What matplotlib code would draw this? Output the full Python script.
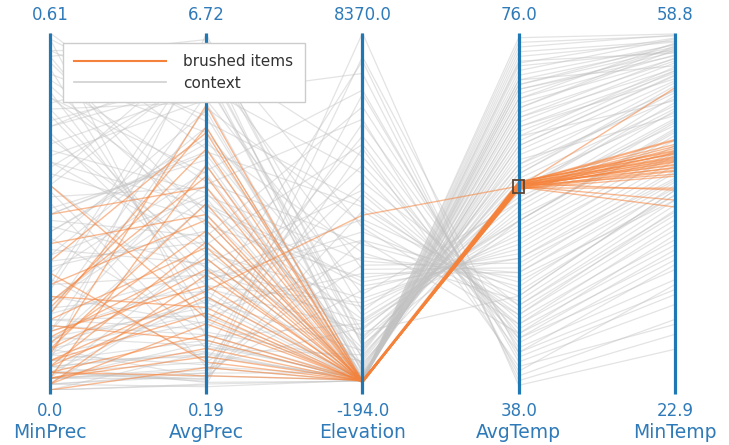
import matplotlib.pyplot as plt
from matplotlib.lines import Line2D
from matplotlib.patches import Rectangle
import matplotlib.transforms as mtransforms

# axis names and their value ranges (bottom, top)
dims = ["MinPrec", "AvgPrec", "Elevation", "AvgTemp", "MinTemp"]
range_lo = [0.0, 0.19, -194.0, 38.0, 22.9]
range_hi = [0.61, 6.72, 8370.0, 76.0, 58.8]
lo_labels = ["0.0", "0.19", "-194.0", "38.0", "22.9"]
hi_labels = ["0.61", "6.72", "8370.0", "76.0", "58.8"]

# context records (all stations)
ctx_min_prec = [0.02, 0.45, 0.10, 0.58, 0.03, 0.30, 0.05, 0.52, 0.01, 0.22,
                0.60, 0.08, 0.35, 0.04, 0.15, 0.48, 0.02, 0.27, 0.55, 0.06,
                0.40, 0.12, 0.01, 0.33, 0.57, 0.09, 0.20, 0.43, 0.03, 0.25,
                0.50, 0.07, 0.38, 0.00, 0.18, 0.61, 0.11, 0.29, 0.46, 0.02,
                0.14, 0.53, 0.05, 0.36, 0.24, 0.01, 0.41, 0.16, 0.58, 0.06,
                0.31, 0.09, 0.49, 0.03, 0.21, 0.44, 0.13, 0.56, 0.04, 0.27,
                0.02, 0.39, 0.17, 0.51, 0.08, 0.34, 0.00, 0.23, 0.47, 0.10,
                0.60, 0.05, 0.19, 0.37, 0.02, 0.42, 0.12, 0.54, 0.07, 0.28,
                0.03, 0.45, 0.15, 0.32, 0.01, 0.50, 0.10, 0.26, 0.04, 0.39,
                0.18, 0.57, 0.06, 0.30, 0.02, 0.48, 0.13, 0.35, 0.00, 0.23]
ctx_avg_prec = [0.60, 5.80, 2.20, 6.40, 0.35, 4.50, 1.10, 3.20, 0.50, 2.90,
                5.10, 1.80, 6.10, 0.90, 3.70, 2.40, 0.40, 4.80, 1.50, 2.60,
                5.50, 1.30, 0.25, 3.90, 6.60, 1.00, 4.20, 2.70, 0.70, 5.30,
                3.50, 1.60, 6.00, 0.30, 2.30, 4.60, 1.20, 3.00, 5.90, 0.55,
                2.00, 4.00, 0.80, 6.50, 2.50, 0.45, 3.80, 1.40, 5.20, 0.65,
                4.40, 1.70, 6.20, 0.38, 3.10, 2.10, 5.60, 3.40, 0.85, 4.70,
                1.05, 2.80, 6.30, 1.90, 3.60, 0.95, 0.28, 5.00, 2.20, 4.30,
                1.15, 6.70, 0.75, 3.30, 2.70, 5.70, 1.55, 4.90, 0.42, 2.45,
                1.85, 6.15, 3.95, 0.62, 2.05, 4.15, 5.35, 1.25, 0.33, 3.55,
                6.55, 2.85, 1.45, 4.55, 0.50, 5.45, 2.35, 1.75, 0.88, 3.75]
ctx_elevation = [10, 1200, 3400, 50, 7800, 600, 20, 2500, 5600, 150,
                 4300, 30, 900, 6200, 5, 1800, 8370, 300, 3000, 15,
                 2100, 4800, 40, 700, 3700, 120, 7000, 450, 2800, 80,
                 1500, 5200, 200, 25, 3900, 1000, 60, 6600, 350, 2200,
                 8, 3300, 100, 1700, 4600, 35, 800, 5900, 250, 1300,
                 45, 2600, 550, 4100, 12, 1900, 7400, 400, 18, 3100,
                 55, 1100, 5400, 70, 2400, 650, 6900, 28, 3600, 180,
                 1400, 850, 4500, 22, 2000, 5000, 90, 1600, 3400, 6,
                 750, 2700, 6300, 140, 1250, 40, 3800, 500, 16, 2300,
                 1050, 5700, 75, 4200, 220, 30, 1450, 7700, 10, 2900]
ctx_avg_temp = [72.5, 48.0, 44.0, 66.0, 42.0, 61.0, 70.0, 52.0, 40.5, 63.5,
                46.0, 68.0, 56.0, 43.5, 74.0, 54.5, 38.5, 65.0, 50.0, 71.0,
                58.0, 47.0, 75.0, 62.5, 45.0, 67.5, 41.0, 59.0, 51.5, 69.0,
                55.5, 44.5, 64.0, 73.0, 48.5, 57.5, 66.5, 42.5, 63.0, 53.0,
                70.5, 49.0, 68.5, 58.5, 45.5, 72.0, 60.5, 43.0, 65.5, 56.5,
                69.5, 50.5, 61.5, 46.5, 74.5, 54.0, 39.5, 62.0, 71.5, 47.5,
                67.0, 57.0, 44.0, 66.0, 52.5, 59.5, 41.5, 73.5, 48.0, 64.5,
                55.0, 60.0, 45.0, 70.0, 53.5, 43.5, 68.0, 56.0, 49.5, 72.8,
                62.0, 51.0, 40.0, 65.0, 58.0, 71.0, 46.0, 61.0, 75.5, 52.0,
                59.0, 42.0, 69.0, 47.0, 64.0, 67.0, 56.0, 39.0, 70.5, 50.5]
ctx_min_temp = [57.0, 43.0, 36.5, 55.0, 33.0, 53.5, 56.5, 45.0, 29.5, 54.0,
                40.0, 57.5, 49.0, 35.0, 58.0, 47.0, 27.0, 52.0, 42.0, 55.5,
                51.0, 41.5, 58.5, 50.5, 38.0, 56.0, 31.5, 52.5, 44.0, 57.8,
                48.5, 37.5, 54.5, 56.8, 42.5, 50.0, 55.8, 34.0, 53.0, 46.0,
                57.2, 43.5, 56.2, 49.5, 39.0, 58.2, 51.5, 36.0, 54.8, 48.0,
                57.3, 43.8, 52.8, 40.5, 58.6, 46.5, 30.0, 53.8, 57.6, 42.0,
                55.2, 49.8, 38.5, 54.2, 45.5, 51.2, 32.5, 57.9, 43.0, 55.0,
                47.5, 50.8, 39.5, 56.9, 46.8, 37.0, 57.1, 49.2, 42.5, 58.3,
                52.2, 44.8, 33.5, 55.4, 50.2, 57.4, 41.0, 53.1, 58.7, 44.2,
                51.8, 35.5, 56.6, 40.8, 54.6, 56.3, 48.8, 28.5, 57.7, 43.2]

# brushed records: stations inside the AvgTemp selection
br_min_prec = [0.02, 0.05, 0.01, 0.08, 0.03, 0.12, 0.00, 0.15, 0.04, 0.07,
               0.22, 0.02, 0.10, 0.06, 0.18, 0.01, 0.09, 0.30, 0.03, 0.14,
               0.05, 0.11, 0.25, 0.04, 0.16, 0.02, 0.20, 0.07, 0.13, 0.35]
br_avg_prec = [0.95, 1.60, 2.30, 3.10, 1.20, 2.80, 0.60, 4.10, 1.90, 3.60,
               4.90, 0.80, 2.10, 5.40, 3.30, 1.40, 2.60, 3.90, 0.45, 4.60,
               2.00, 1.10, 3.40, 2.90, 1.70, 4.30, 0.70, 2.40, 5.00, 1.50]
br_elevation = [12, -8, 25, 5, 30, -15, 18, 2, 40, -20,
                10, 35, 0, 22, -5, 15, 28, 8, 45, -12,
                4000, 20, -2, 32, 6, 14, 26, -25, 11, 3]
br_avg_temp = [59.6, 59.9, 59.4, 60.1, 59.7, 59.8, 59.5, 60.0, 59.3, 59.9,
               59.6, 60.2, 59.7, 59.8, 59.5, 60.0, 59.4, 59.9, 59.6, 60.1,
               59.7, 59.8, 59.5, 60.0, 59.6, 59.9, 59.7, 60.1, 59.4, 59.8]
br_min_temp = [45.8, 46.4, 44.9, 47.0, 46.1, 45.5, 43.2, 48.1, 46.8, 45.2,
               53.3, 46.6, 42.0, 47.4, 45.9, 46.2, 44.4, 48.0, 41.3, 46.9,
               45.6, 46.3, 47.2, 43.0, 45.0, 46.7, 44.6, 47.6, 45.3, 46.0]

brush_lo = 59.0
brush_hi = 60.4

axis_blue = "#1f77b4"
text_blue = "#2f7ab8"
orange = "#f5823a"


def normalize(cols):
    out = []
    for i, col in enumerate(cols):
        span = range_hi[i] - range_lo[i]
        out.append([(v - range_lo[i]) / span for v in col])
    return list(zip(*out))


ctx_rows = normalize([ctx_min_prec, ctx_avg_prec, ctx_elevation, ctx_avg_temp, ctx_min_temp])
br_rows = normalize([br_min_prec, br_avg_prec, br_elevation, br_avg_temp, br_min_temp])

fig = plt.figure(figsize=(7.29, 4.45), dpi=100)
ax = fig.add_axes([50 / 729, 55 / 445, 625 / 729, 357 / 445])
ax.set_xlim(0, len(dims) - 1)
ax.set_ylim(0, 1)
ax.axis("off")

xs = list(range(len(dims)))
for row in ctx_rows:
    ax.plot(xs, row, color="#c2c2c2", alpha=0.45, linewidth=0.9, zorder=1)
for row in br_rows:
    ax.plot(xs, row, color=orange, alpha=0.55, linewidth=1.0, zorder=2)

trans = mtransforms.blended_transform_factory(ax.transData, ax.transAxes)
for i, name in enumerate(dims):
    ax.plot([i, i], [-0.01, 1], color=axis_blue, linewidth=2.3, zorder=3,
            solid_capstyle="butt", clip_on=False)
    ax.text(i, 1.05, hi_labels[i], transform=trans, ha="center", va="center",
            color=text_blue, fontsize=12)
    ax.text(i, -0.058, lo_labels[i], transform=trans, ha="center", va="center",
            color=text_blue, fontsize=12)
    ax.text(i, -0.12, name, transform=trans, ha="center", va="center",
            color=text_blue, fontsize=13.5)

# brush box on AvgTemp
t_lo = (brush_lo - range_lo[3]) / (range_hi[3] - range_lo[3])
t_hi = (brush_hi - range_lo[3]) / (range_hi[3] - range_lo[3])
ax.add_patch(Rectangle((3 - 0.035, t_lo), 0.07, t_hi - t_lo, fill=False,
                       edgecolor="#5b4636", linewidth=1.3, zorder=4))

handles = [Line2D([], [], color=orange, linewidth=1.5),
           Line2D([], [], color="#cfcfcf", linewidth=1.2)]
leg = fig.legend(handles, ["brushed items", "context"], loc="upper left",
                 bbox_to_anchor=(63 / 729, 1 - 43 / 445), fontsize=11,
                 handlelength=6.0, frameon=True, fancybox=False,
                 edgecolor="#cccccc", framealpha=1.0, borderpad=0.75,
                 labelspacing=0.4, handletextpad=1.1, borderaxespad=0)
for t in leg.get_texts():
    t.set_color("#333333")

fig.savefig("out.png", dpi=100)
